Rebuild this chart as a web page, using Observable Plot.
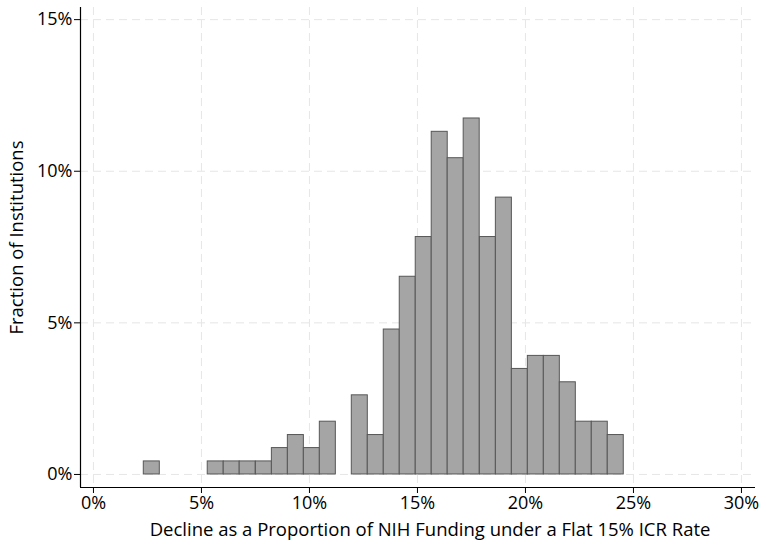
<!DOCTYPE html>
<html>
<head>
<meta charset="utf-8">
<script src="https://cdn.jsdelivr.net/npm/d3@7"></script>
<script src="https://cdn.jsdelivr.net/npm/@observablehq/plot@0.6"></script>
<style>
  html, body { margin: 0; padding: 0; background: #fff; }
  #chart svg { display: block; }
</style>
</head>
<body>
<div id="chart"></div>
<script>
// Histogram bins: lower edge of each bin (percent) and fraction of institutions (percent)
const binLo = [2.33, 5.29, 6.03, 6.77, 7.52, 8.26, 9.00, 9.74, 10.48, 11.96, 12.70, 13.44, 14.18, 14.92, 15.66, 16.40, 17.14, 17.89, 18.63, 19.37, 20.11, 20.85, 21.59, 22.33, 23.07, 23.81];
const fraction = [0.43, 0.43, 0.43, 0.43, 0.43, 0.87, 1.30, 0.87, 1.74, 2.61, 1.30, 4.78, 6.52, 7.83, 11.30, 10.43, 11.74, 7.83, 9.13, 3.48, 3.91, 3.91, 3.04, 1.74, 1.74, 1.30];
const binWidth = 0.741;

const xTicks = [0, 5, 10, 15, 20, 25, 30];
const yTicks = [0, 5, 10, 15];
const xTitle = "Decline as a Proportion of NIH Funding under a Flat 15% ICR Rate";
const yTitle = "Fraction of Institutions";

const xDomain = [-0.6, 30.65];
const yDomain = [-0.43, 15.4];

const bins = binLo.map((lo, i) => ({lo, hi: lo + binWidth, value: fraction[i]}));

const font = "'Open Sans', Lato, sans-serif";

const chart = Plot.plot({
  width: 767,
  height: 543,
  marginLeft: 80,
  marginRight: 12,
  marginTop: 7,
  marginBottom: 56,
  style: {fontFamily: font, fontSize: "18px", color: "#000", background: "#fff"},
  x: {domain: xDomain, ticks: xTicks},
  y: {domain: yDomain, ticks: yTicks},
  marks: [
    Plot.gridX(xTicks, {stroke: "#e6e6e6", strokeOpacity: 1, strokeDasharray: "8,5"}),
    Plot.gridY(yTicks, {stroke: "#e6e6e6", strokeOpacity: 1, strokeDasharray: "8,5"}),
    Plot.rect(bins, {x1: "lo", x2: "hi", y1: 0, y2: "value", fill: "#a5a5a5", stroke: "#575757", strokeWidth: 1}),
    Plot.ruleX([xDomain[0]], {stroke: "#000", strokeWidth: 1.2}),
    Plot.ruleY([yDomain[0]], {stroke: "#000", strokeWidth: 1.2}),
    Plot.axisX(xTicks, {tickFormat: d => d + "%", tickSize: 6, tickPadding: 3, fontSize: 18, label: null}),
    Plot.axisY(yTicks, {tickFormat: d => d + "%", tickSize: 6, tickPadding: 2, fontSize: 18, label: null}),
    Plot.text([xTitle], {frameAnchor: "bottom", dx: 12, dy: 48, fontSize: 18.5, fill: "#000"}),
    Plot.text([yTitle], {frameAnchor: "left", textAnchor: "middle", rotate: -90, dx: -63, dy: -10, fontSize: 18.5, fill: "#000"})
  ]
});
document.getElementById("chart").appendChild(chart);
</script>
</body>
</html>
